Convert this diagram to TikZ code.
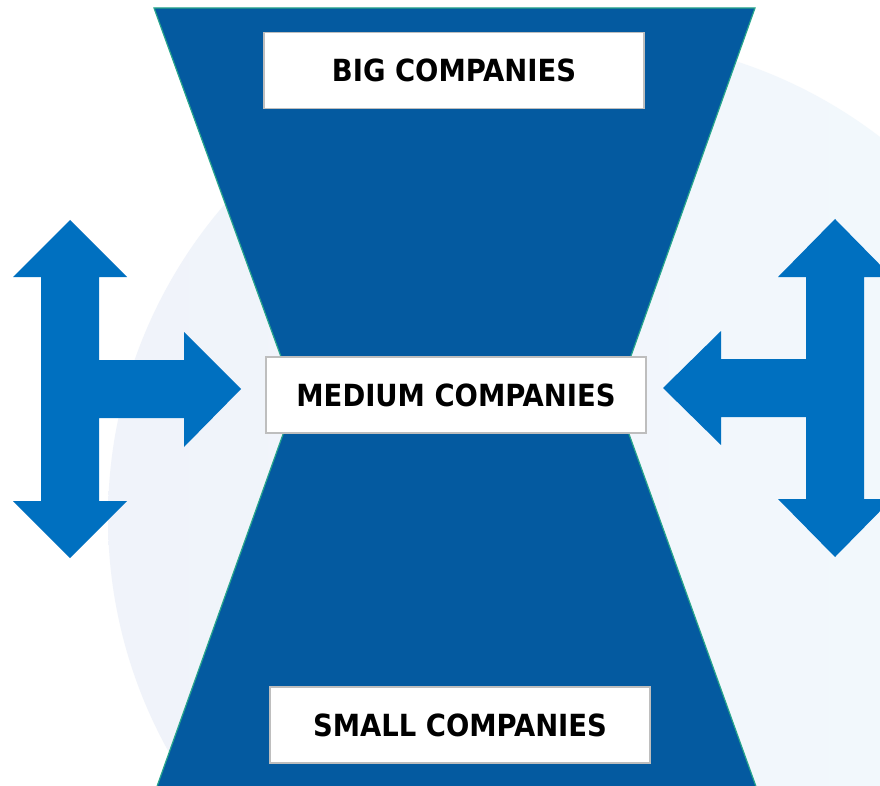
\documentclass[tikz,border=0pt]{standalone}
\usepackage{fontspec}
\setmainfont{DejaVu Sans Condensed}
\definecolor{glassblue}{RGB}{4,90,160}
\definecolor{glassedge}{RGB}{40,165,140}
\definecolor{arrowblue}{RGB}{0,112,192}
\definecolor{bgleft}{RGB}{240,243,250}
\definecolor{bgright}{RGB}{243,249,253}
\definecolor{boxgrey}{RGB}{190,190,190}
\tikzset{
  labelbox/.style={draw=boxgrey, line width=1.6pt, fill=white, minimum width=380pt, minimum height=76pt, inner sep=0pt, font=\fontsize{30.5}{33}\selectfont\bfseries, text=black},
  bigarrow/.style={fill=arrowblue, draw=none}
}
\begin{document}
\begin{tikzpicture}[x=1pt,y=-1pt]
\useasboundingbox (0,0) rectangle (880,786);
\begin{scope}
\clip (0,0) rectangle (880,786);
\fill[white] (0,0) rectangle (880,786);
\shade[left color=bgleft, right color=bgright] (588,518) circle[radius=480];
\path[fill=glassblue, draw=glassedge, line width=1.2pt] (154,8) -- (755,8) -- (616,398) -- (758,792) -- (155,792) -- (296,398) -- cycle;
\path[bigarrow] (70,220) -- (127,277) -- (99,277) -- (99,360) -- (184,360) -- (184,332) -- (241,389) -- (184,447) -- (184,418) -- (99,418) -- (99,501) -- (127,501) -- (70,558) -- (13,501) -- (41,501) -- (41,277) -- (13,277) -- cycle;
\path[bigarrow] (835,219) -- (892,277) -- (864,277) -- (864,499) -- (892,499) -- (835,557) -- (778,499) -- (806,499) -- (806,417) -- (721,417) -- (721,445) -- (663,388) -- (721,331) -- (721,359) -- (806,359) -- (806,277) -- (778,277) -- cycle;
\end{scope}
\node[labelbox] (big) at (454,70.5) {BIG COMPANIES};
\node[labelbox] (medium) at (456,395) {MEDIUM COMPANIES};
\node[labelbox] (small) at (460,725) {SMALL COMPANIES};
\end{tikzpicture}
\end{document}
